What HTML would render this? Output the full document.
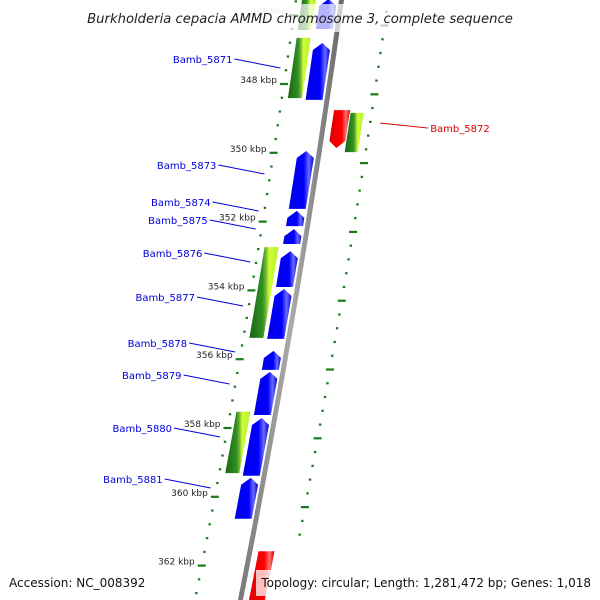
<!DOCTYPE html>
<html><head><meta charset="utf-8">
<style>
html,body{margin:0;padding:0;background:#fff;}
svg{display:block;font-family:"DejaVu Sans","Liberation Sans",sans-serif;}
</style></head>
<body>
<svg id="chart" width="600" height="600" viewBox="0 0 600 600" xmlns="http://www.w3.org/2000/svg">
<defs>
<linearGradient id="gBlue" x1="0" x2="1" y1="0" y2="0">
<stop offset="0" stop-color="#0000e6"/><stop offset="0.6" stop-color="#0000ff"/><stop offset="0.8" stop-color="#6a6aff"/><stop offset="1" stop-color="#0000d0"/></linearGradient>
<linearGradient id="gRed" x1="0" x2="1" y1="0" y2="0">
<stop offset="0" stop-color="#e00000"/><stop offset="0.6" stop-color="#ff0000"/><stop offset="0.8" stop-color="#ff7070"/><stop offset="1" stop-color="#d00000"/></linearGradient>
<linearGradient id="gGreen" x1="0" x2="1" y1="0" y2="0">
<stop offset="0" stop-color="#1a6612"/><stop offset="0.45" stop-color="#2f8f22"/><stop offset="0.55" stop-color="#6fae33"/><stop offset="0.68" stop-color="#ccff33"/><stop offset="1" stop-color="#b8f030"/></linearGradient>
<linearGradient id="gBack" x1="0" x2="1" y1="0" y2="0">
<stop offset="0" stop-color="#777"/><stop offset="0.5" stop-color="#aaa"/><stop offset="1" stop-color="#666"/></linearGradient>
</defs>
<g id="layer"></g>
</svg>
<script>
// data
const fwdStarts = [345.5, 346.78, 349.92, 351.66, 352.19, 352.83, 353.93, 355.73, 356.34, 357.68, 359.42];
const fwdEnds   = [346.43, 348.49, 351.66, 352.16, 352.68, 353.93, 355.44, 356.34, 357.65, 359.42, 360.67];
const revStarts = [348.76, 361.58];
const revEnds   = [349.86, 363.2];
const gcLeftStarts = [345.5, 346.66, 352.74, 357.53];
const gcLeftEnds   = [346.43, 348.41, 355.38, 359.31];
const gcRightStarts = [348.84];
const gcRightEnds   = [349.98];
const tickKbp = [346, 348, 350, 352, 354, 356, 358, 360, 362];
const tickLabels = ["346 kbp","348 kbp","350 kbp","352 kbp","354 kbp","356 kbp","358 kbp","360 kbp","362 kbp"];
const geneNames = ["Bamb_5871","Bamb_5873","Bamb_5874","Bamb_5875","Bamb_5876","Bamb_5877","Bamb_5878","Bamb_5879","Bamb_5880","Bamb_5881"];
const geneNameIdx = [1,2,3,4,5,6,7,8,9,10];
const revNames = ["Bamb_5872"];

const NS="http://www.w3.org/2000/svg";
const layer=document.getElementById('layer');
function yOf(k){return 84+(k-348)*34.4;}
function bx(y){return 342-0.1395*y-0.000048*y*y;}
function mk(tag,attrs){const e=document.createElementNS(NS,tag);for(const a in attrs)e.setAttribute(a,attrs[a]);layer.appendChild(e);return e;}
function band(y1,y2,o1,o2){
  const pts=[];const n=8;
  for(let i=0;i<=n;i++){const y=y1+(y2-y1)*i/n;pts.push([bx(y)+o2,y]);}
  for(let i=n;i>=0;i--){const y=y1+(y2-y1)*i/n;pts.push([bx(y)+o1,y]);}
  return pts;
}
function ptsStr(p){return p.map(q=>q[0].toFixed(1)+','+q[1].toFixed(1)).join(' ');}

// backbone
{const p=band(-5,605,-3,2);const e=mk('polygon',{points:ptsStr(p),fill:'url(#gBack)'});
}

// tick tracks
for(let k=345.6;k<=363.4;k+=0.4){
  const y=yOf(k);const major=Math.abs((k-348)/2-Math.round((k-348)/2))<0.05;
  const x=bx(y)-46;
  const e=mk('line',{x1:major?x-4:x-1.2,y1:y,x2:major?x+4:x+1.2,y2:y,stroke:'#1a7a1a','stroke-width':2.2});
  
}
for(let k=345.9;k<=361.3;k+=0.4){
  const y=yOf(k);const major=Math.abs((k-348.3)/2-Math.round((k-348.3)/2))<0.05;
  const x=bx(y)+46;
  const e=mk('line',{x1:major?x-4:x-1.2,y1:y,x2:major?x+4:x+1.2,y2:y,stroke:'#1a7a1a','stroke-width':2.2});
  
}
tickKbp.forEach((k,i)=>{
  const y=yOf(k);
  const t=mk('text',{x:bx(y)-53,y:y-1,'font-size':9,'text-anchor':'end',fill:'#222'});
  t.textContent=tickLabels[i];
  if(i===0)t.setAttribute('fill','#ccc');
  
});

// gc bands
gcLeftStarts.forEach((s,i)=>{const e=mk('polygon',{points:ptsStr(band(yOf(s),yOf(gcLeftEnds[i]),-40,-26)),fill:'url(#gGreen)'});
});
gcRightStarts.forEach((s,i)=>{const e=mk('polygon',{points:ptsStr(band(yOf(s),yOf(gcRightEnds[i]),25,38)),fill:'url(#gGreen)'});
});

// forward genes (arrow tip at top)
fwdStarts.forEach((s,i)=>{
  const y1=yOf(s)+1,y2=yOf(fwdEnds[i])-1;const o1=-22,o2=-5;
  const h=Math.min(7,(y2-y1)/2);
  const tip=[bx(y1)+(o1+o2)/2,y1];
  const pts=[];
  const n=8;
  for(let j=0;j<=n;j++){const y=y1+h+(y2-y1-h)*j/n;pts.push([bx(y)+o2,y]);}
  for(let j=n;j>=0;j--){const y=y1+h+(y2-y1-h)*j/n;pts.push([bx(y)+o1,y]);}
  pts.push(tip);
  const e=mk('polygon',{points:ptsStr(pts),fill:'url(#gBlue)'});
  
});
// reverse genes (arrow tip at bottom)
revStarts.forEach((s,i)=>{
  const y1=yOf(s),y2=yOf(revEnds[i]);const o1=8,o2=24;const h=7;
  const pts=[];const n=8;
  for(let j=0;j<=n;j++){const y=y1+(y2-h-y1)*j/n;pts.push([bx(y)+o2,y]);}
  pts.push([bx(y2)+(o1+o2)/2,y2]);
  for(let j=n;j>=0;j--){const y=y1+(y2-h-y1)*j/n;pts.push([bx(y)+o1,y]);}
  const e=mk('polygon',{points:ptsStr(pts),fill:'url(#gRed)'});
  
});

// labels
const labelYs=[59,165,202,220,253,297,343,375,428,479];
geneNames.forEach((nm,i)=>{
  const ly=labelYs[i];
  const endX=bx(ly+8)-52;
  const tx=endX-48;
  const t=mk('text',{x:tx,y:ly+4,'font-size':10,'text-anchor':'end',fill:'#0000dd'});
  t.textContent=nm;
  const l=mk('line',{x1:tx+2,y1:ly,x2:endX,y2:ly+9,stroke:'#0000dd','stroke-width':1});
  
});
revNames.forEach((nm,i)=>{
  const gy=(yOf(revStarts[i])+yOf(revEnds[i]))/2;
  const sx=bx(gy)+57;
  const l=mk('line',{x1:sx,y1:gy-6,x2:sx+48,y2:gy-1,stroke:'#dd0000','stroke-width':1});
  
  const t=mk('text',{x:sx+50,y:gy+3,'font-size':10,fill:'#dd0000'});
  t.textContent=nm;
});

// title & footer overlays
{const r=mk('rect',{x:60,y:4,width:480,height:28,fill:'#fff','fill-opacity':0.7});

const t=mk('text',{x:300,y:23,'font-size':13.2,'font-style':'italic','text-anchor':'middle',fill:'#222'});
t.textContent='Burkholderia cepacia AMMD chromosome 3, complete sequence';

const r2=mk('rect',{x:256,y:570,width:340,height:26,fill:'#fff','fill-opacity':0.75});

const a=mk('text',{x:9,y:587,'font-size':12,fill:'#111'});
a.textContent='Accession: NC_008392';
const b=mk('text',{x:591,y:587,'font-size':12,'text-anchor':'end',fill:'#111'});
b.textContent='Topology: circular; Length: 1,281,472 bp; Genes: 1,018';}
</script>
</body></html>
